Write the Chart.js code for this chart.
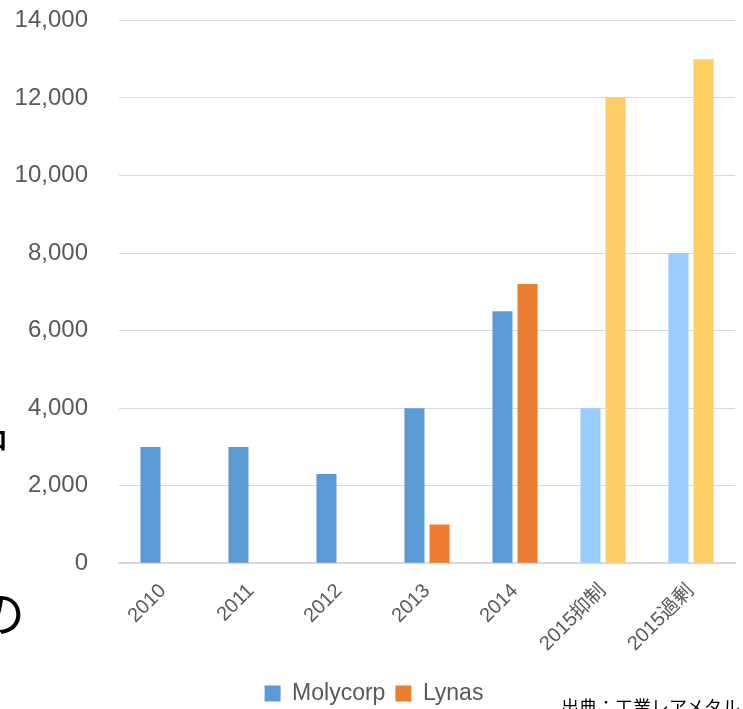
<!DOCTYPE html>
<html><head><meta charset="utf-8">
<script src="https://cdn.jsdelivr.net/npm/chart.js@4"></script>
<style>
html,body{margin:0;padding:0;background:#fff;overflow:hidden;width:743px;height:709px;}
#wrap{position:relative;width:743px;height:709px;overflow:hidden;}
canvas{position:absolute;left:0;top:-25px;}
.side{position:absolute;color:#000;font-family:"Noto Sans CJK JP",sans-serif;white-space:nowrap;}
</style></head>
<body><div id="wrap">
<canvas id="c" width="743" height="734"></canvas>
<div class="side" style="left:-36px;top:402px;font-size:44px;line-height:1.2;">品</div>
<div class="side" style="left:-25px;top:580px;font-size:50px;line-height:1.2;">の</div>
<div class="side" style="left:561px;top:697px;font-size:18px;line-height:1;">出典：工業レアメタル</div>
</div>
<script>
const categories = ["2010","2011","2012","2013","2014","2015抑制","2015過剰"];
const molycorp = [3000, 3000, 2300, 4000, 6500, 4000, 8000];
const lynas = [null, null, null, 1000, 7200, 12000, 13000];
const molycorpColors = ["#5B9BD5","#5B9BD5","#5B9BD5","#5B9BD5","#5B9BD5","#99CCFF","#99CCFF"];
const lynasColors = ["#ED7D31","#ED7D31","#ED7D31","#ED7D31","#ED7D31","#FFCC66","#FFCC66"];
const yTicks = [0,2000,4000,6000,8000,10000,12000,14000];

const font = "'Liberation Sans','Noto Sans CJK JP',sans-serif";
new Chart(document.getElementById('c'), {
  type: 'bar',
  data: {
    labels: categories,
    datasets: [
      {label: 'Molycorp', data: molycorp, backgroundColor: molycorpColors, borderWidth: 0},
      {label: 'Lynas', data: lynas, backgroundColor: lynasColors, borderWidth: 0}
    ]
  },
  options: {
    responsive: false,
    animation: false,
    layout: {autoPadding: false, padding: {left: 13, right: 8, top: -5, bottom: -6}},
    datasets: {bar: {categoryPercentage: 0.57, barPercentage: 0.8}},
    plugins: {
      legend: {
        position: 'bottom',
        labels: {boxWidth: 16, boxHeight: 16, color: '#595959', font: {family: font, size: 23}, padding: 10}
      },
      tooltip: {enabled: false}
    },
    scales: {
      x: {
        grid: {display: false, drawTicks: false},
        border: {color: '#D9D9D9', width: 2},
        ticks: {color: '#595959', font: {family: font, size: 20}, minRotation: 45, maxRotation: 45, padding: 16}
      },
      y: {
        min: 0, max: 14000,
        afterBuildTicks: (ax) => { ax.ticks = yTicks.map(v => ({value: v})); },
        afterFit: (ax) => { ax.width = 106; },
        grid: {color: '#D9D9D9', lineWidth: 1, drawTicks: false},
        border: {display: false},
        ticks: {color: '#595959', font: {family: font, size: 24}, padding: 31,
          callback: (v) => v.toLocaleString('en-US')}
      }
    }
  }
});
</script>
</body></html>
